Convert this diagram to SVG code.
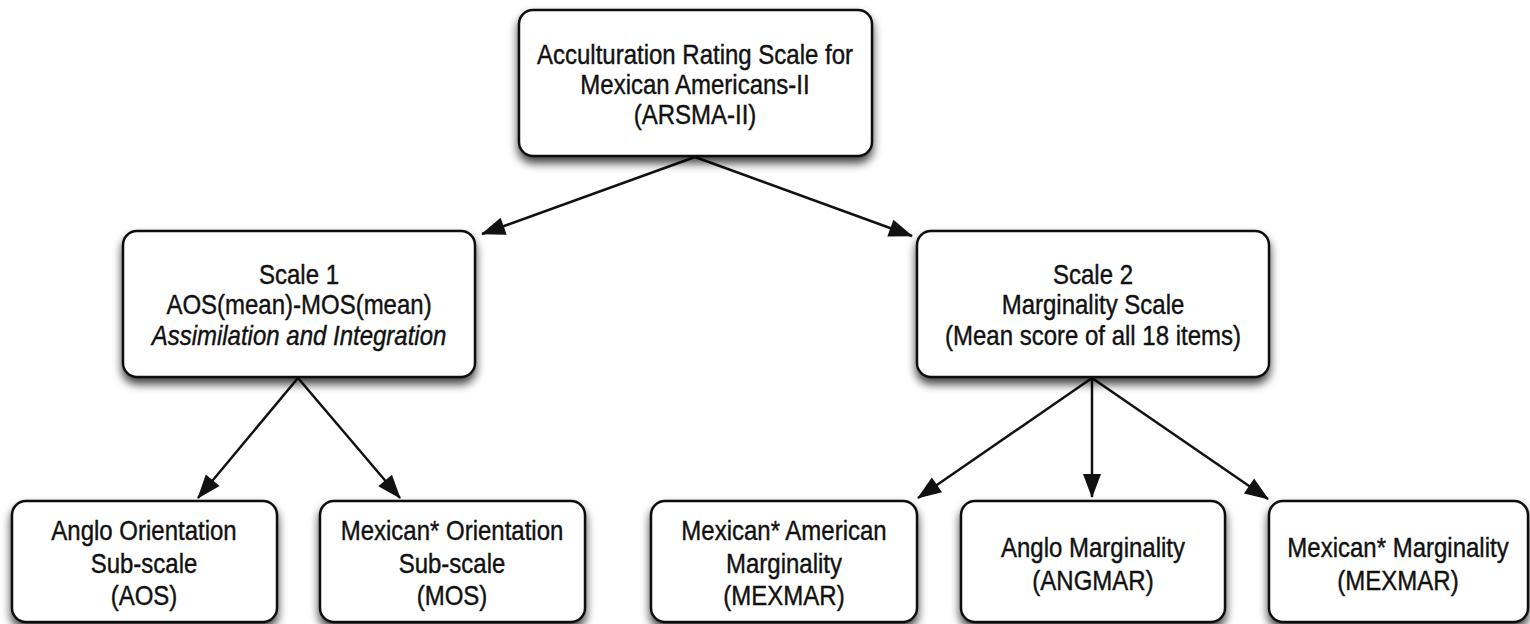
<svg xmlns="http://www.w3.org/2000/svg" width="1530" height="624" viewBox="0 0 1530 624">
<style>
.box{fill:#fff;stroke:#111;stroke-width:2.5;filter:url(#sh)}
.t{font-family:"Liberation Sans",Arial,sans-serif;font-size:24px;fill:#111;stroke:#111;stroke-width:0.35;text-anchor:middle}
.it{font-style:italic}
.c{stroke:#111;stroke-width:2.5;fill:none;marker-end:url(#ah)}
</style>
<defs>
<filter id="sh" x="-10%" y="-10%" width="120%" height="140%">
<feDropShadow dx="0" dy="6" stdDeviation="5" flood-color="#000" flood-opacity="0.75"/>
</filter>
<marker id="ah" viewBox="0 0 24 18" refX="23" refY="9" markerWidth="24" markerHeight="18" markerUnits="userSpaceOnUse" orient="auto" overflow="visible">
<path d="M0,0 L24,9 L0,18 Z" fill="#111"/>
</marker>
</defs>
<rect width="1530" height="624" fill="#fff"/>
<g id="connectors">
<line class="c" x1="695" y1="157" x2="482" y2="234"/>
<line class="c" x1="695" y1="157" x2="912" y2="236"/>
<line class="c" x1="298" y1="378" x2="198" y2="498"/>
<line class="c" x1="298" y1="378" x2="400" y2="498"/>
<line class="c" x1="1092" y1="378" x2="918" y2="498"/>
<line class="c" x1="1092" y1="378" x2="1092" y2="497"/>
<line class="c" x1="1092" y1="378" x2="1268" y2="499"/>
</g>
<g id="n_arsma">
<rect class="box" x="519" y="10" width="353" height="146" rx="14"/>
<text class="t" transform="translate(695 64) scale(1 1.18)">Acculturation Rating Scale for</text>
<text class="t" transform="translate(695 94) scale(1 1.18)">Mexican Americans-II</text>
<text class="t" transform="translate(695 124) scale(1 1.18)">(ARSMA-II)</text>
</g>
<g id="n_scale1">
<rect class="box" x="123" y="231" width="352" height="146" rx="14"/>
<text class="t" transform="translate(299 284) scale(1 1.18)">Scale 1</text>
<text class="t" transform="translate(299 314) scale(1 1.18)">AOS(mean)-MOS(mean)</text>
<text class="t it" transform="translate(299 345) scale(1 1.18)">Assimilation and Integration</text>
</g>
<g id="n_scale2">
<rect class="box" x="917" y="231" width="352" height="146" rx="14"/>
<text class="t" transform="translate(1093 284) scale(1 1.18)">Scale 2</text>
<text class="t" transform="translate(1093 314) scale(1 1.18)">Marginality Scale</text>
<text class="t" transform="translate(1093 345) scale(1 1.18)">(Mean score of all 18 items)</text>
</g>
<g id="n_aos">
<rect class="box" x="12" y="501" width="265" height="121" rx="14"/>
<text class="t" transform="translate(144 540) scale(1 1.18)">Anglo Orientation</text>
<text class="t" transform="translate(144 573) scale(1 1.18)">Sub-scale</text>
<text class="t" transform="translate(144 605) scale(1 1.18)">(AOS)</text>
</g>
<g id="n_mos">
<rect class="box" x="320" y="501" width="265" height="121" rx="14"/>
<text class="t" transform="translate(452 540) scale(1 1.18)">Mexican* Orientation</text>
<text class="t" transform="translate(452 573) scale(1 1.18)">Sub-scale</text>
<text class="t" transform="translate(452 605) scale(1 1.18)">(MOS)</text>
</g>
<g id="n_mexam">
<rect class="box" x="651" y="501" width="266" height="121" rx="14"/>
<text class="t" transform="translate(784 540) scale(1 1.18)">Mexican* American</text>
<text class="t" transform="translate(784 573) scale(1 1.18)">Marginality</text>
<text class="t" transform="translate(784 605) scale(1 1.18)">(MEXMAR)</text>
</g>
<g id="n_angmar">
<rect class="box" x="961" y="501" width="264" height="121" rx="14"/>
<text class="t" transform="translate(1093 557) scale(1 1.18)">Anglo Marginality</text>
<text class="t" transform="translate(1093 590) scale(1 1.18)">(ANGMAR)</text>
</g>
<g id="n_mexmar">
<rect class="box" x="1269" y="501" width="259" height="121" rx="14"/>
<text class="t" transform="translate(1398 557) scale(1 1.18)">Mexican* Marginality</text>
<text class="t" transform="translate(1398 590) scale(1 1.18)">(MEXMAR)</text>
</g>
</svg>
